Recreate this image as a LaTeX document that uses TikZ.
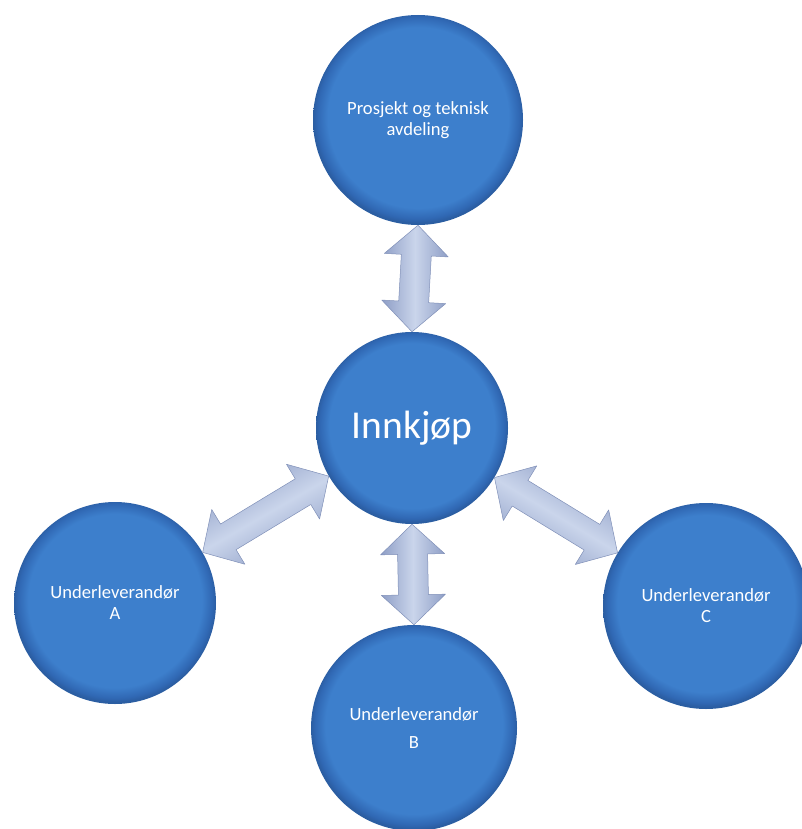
\documentclass[tikz,border=0pt]{standalone}
\usepackage{fontspec}
\setmainfont{Carlito}
\usetikzlibrary{calc}

\definecolor{bubblecore}{HTML}{3D7FCC}
\definecolor{bubblerim}{HTML}{3068B4}
\definecolor{arrowlight}{HTML}{CAD5EB}
\definecolor{arrowdark}{HTML}{8E9EC6}
\definecolor{arrowline}{HTML}{8090B8}

\pgfdeclareradialshading{bevelblue}{\pgfpoint{0bp}{1bp}}{%
  color(0bp)=(bubblecore); color(21.5bp)=(bubblecore);
  color(24bp)=(bubblerim); color(25bp)=(bubblerim!90!black);
  color(50bp)=(bubblerim!90!black)}

% double block arrow between two points
\newcommand\arrhead{30pt}
\newcommand\arrwing{32pt}
\newcommand\arrshaft{15pt}
\newcommand\twoway[3][90]{%
  \shade[arr, shading angle=#1] (#2)
    -- ($(#2)!\arrhead!(#3)!\arrwing!90:(#3)$)
    -- ($(#2)!\arrhead!(#3)!\arrshaft!90:(#3)$)
    -- ($(#3)!\arrhead!(#2)!\arrshaft!-90:(#2)$)
    -- ($(#3)!\arrhead!(#2)!\arrwing!-90:(#2)$)
    -- (#3)
    -- ($(#3)!\arrhead!(#2)!\arrwing!90:(#2)$)
    -- ($(#3)!\arrhead!(#2)!\arrshaft!90:(#2)$)
    -- ($(#2)!\arrhead!(#3)!\arrshaft!-90:(#3)$)
    -- ($(#2)!\arrhead!(#3)!\arrwing!-90:(#3)$)
    -- cycle;}

\begin{document}
\begin{tikzpicture}[
  x=1pt, y=-1pt,
  bubble/.style={circle, shade, shading=bevelblue, text=white, align=center,
                 inner sep=0pt, font=\fontsize{18.6pt}{21pt}\selectfont},
  arr/.style={draw=arrowline, line width=0.5pt, line join=round,
              left color=arrowdark, right color=arrowdark, middle color=arrowlight}
]
\useasboundingbox (0,0) rectangle (801,829);

\node[bubble, minimum size=210pt] (dept) at (418,120) {Prosjekt og teknisk\\avdeling};
\node[bubble, minimum size=192pt, font=\fontsize{39.5pt}{44pt}\selectfont]
    (buy) at (412,428) {Innkjøp};
\node[bubble, minimum size=202pt] (subA) at (115,603) {Underleverandør\\A};
\node[bubble, minimum size=206pt] (subB) at (414,728) {Underleverandør\\[7pt]B};
\node[bubble, minimum size=206pt] (subC) at (706,606) {Underleverandør\\C};

\twoway[90]{dept.south}{buy.north}
\twoway[90]{buy.south}{subB.north}
\twoway[30]{buy.210}{subA.30}
\twoway[-31]{buy.329}{subC.149}
\end{tikzpicture}
\end{document}
